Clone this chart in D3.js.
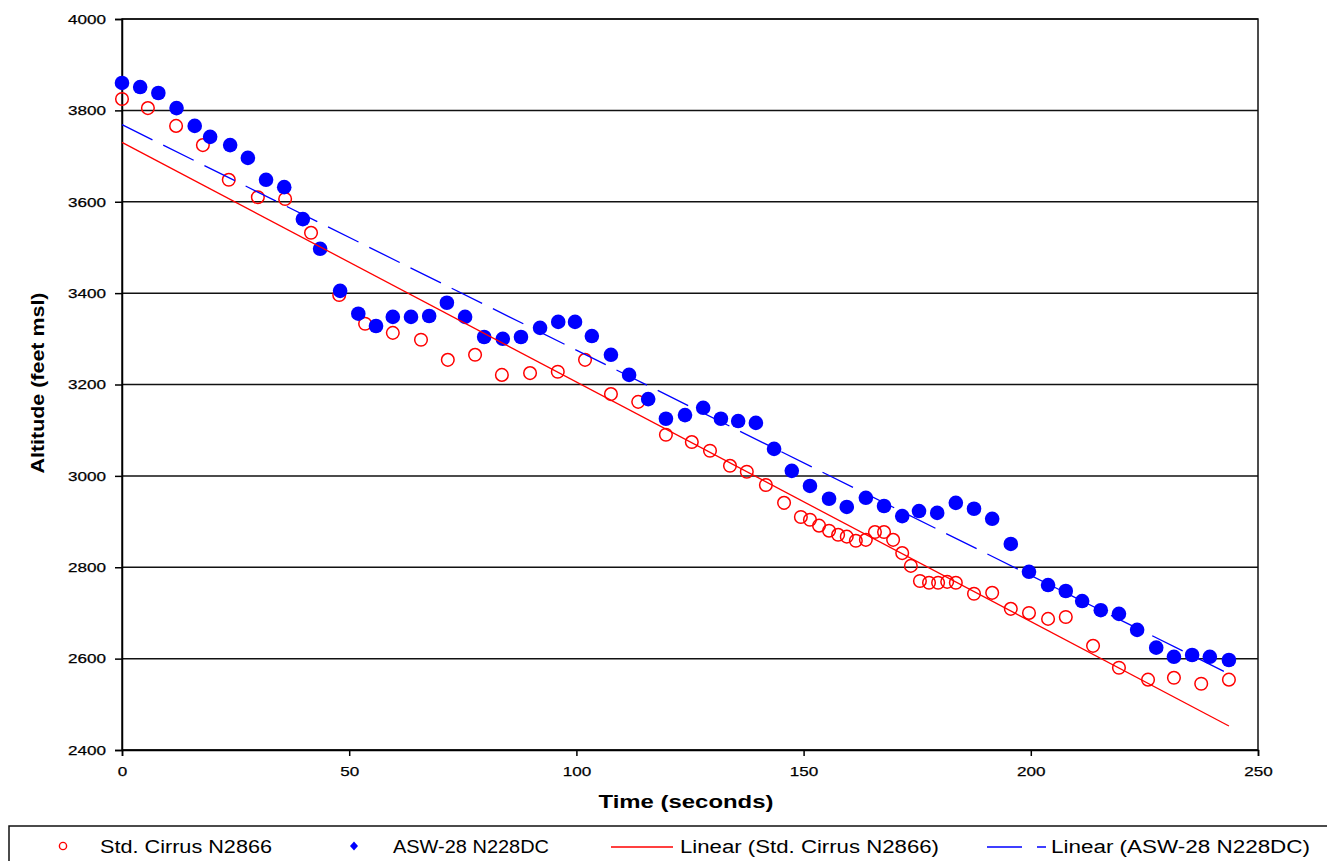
<!DOCTYPE html>
<html><head><meta charset="utf-8">
<script src="https://cdn.jsdelivr.net/npm/d3@7"></script>
<style>html,body{margin:0;padding:0;background:#fff;}svg{display:block;font-family:"Liberation Sans",Arial,sans-serif;}</style>
</head><body>
<script>
const stdTime = [0,5.7,11.9,17.8,23.5,29.9,35.9,41.6,47.8,53.5,59.6,65.8,71.7,77.7,83.6,89.8,95.9,101.9,107.6,113.6,119.7,125.4,129.4,133.8,137.5,141.7,145.7,149.4,151.4,153.4,155.6,157.6,159.5,161.5,163.7,165.7,167.7,169.7,171.7,173.6,175.6,177.6,179.6,181.6,183.5,187.5,191.5,195.6,199.6,203.8,207.7,213.7,219.4,225.8,231.5,237.5,243.6];
const stdAlt = [3825,3805,3766,3724,3648,3610,3606,3532,3396,3333,3313,3298,3254,3265,3221,3225,3228,3254,3179,3162,3090,3074,3055,3022,3009,2980,2941,2910,2904,2891,2880,2871,2867,2858,2860,2877,2877,2860,2831,2803,2770,2766,2766,2768,2766,2742,2744,2709,2700,2687,2691,2628,2580,2554,2558,2545,2554];
const aswTime = [0,4,8,12,16,19.4,23.8,27.7,31.7,35.7,39.8,43.6,48,52,55.9,59.6,63.6,67.6,71.5,75.5,79.7,83.8,87.8,92,96,99.7,103.4,107.6,111.6,115.8,119.7,123.9,127.9,131.8,135.6,139.5,143.5,147.4,151.4,155.6,159.5,163.7,167.7,171.7,175.4,179.4,183.5,187.5,191.5,195.6,199.6,203.8,207.7,211.3,215.4,219.4,223.4,227.6,231.5,235.5,239.4,243.6];
const aswAlt = [3860,3851,3838,3805,3766,3742,3724,3696,3648,3632,3562,3497,3405,3355,3328,3348,3348,3350,3379,3348,3304,3300,3304,3324,3337,3337,3306,3265,3221,3168,3125,3133,3149,3125,3120,3116,3059,3011,2978,2950,2932,2952,2934,2912,2923,2919,2941,2928,2906,2851,2790,2761,2748,2726,2706,2698,2663,2624,2604,2608,2604,2597];
const xTicks = [0,50,100,150,200,250];
const yTicks = [2400,2600,2800,3000,3200,3400,3600,3800,4000];
const seriesNames = ["Std. Cirrus N2866","ASW-28 N228DC","Linear (Std. Cirrus N2866)","Linear (ASW-28 N228DC)"];

const W=1327,H=861;
const svg=d3.select("body").append("svg").attr("width",W).attr("height",H);
const x=d3.scaleLinear().domain([0,250]).range([122,1258]);
const y=d3.scaleLinear().domain([2400,4000]).range([750,19]);

function fit(t,ys){
  const n=t.length,mx=d3.mean(t),my=d3.mean(ys);
  let sxy=0,sxx=0;
  for(let i=0;i<n;i++){sxy+=(t[i]-mx)*(ys[i]-my);sxx+=(t[i]-mx)**2;}
  const b=sxy/sxx,a=my-b*mx;
  return [[t[0],a+b*t[0]],[t[n-1],a+b*t[n-1]]];
}

// gridlines
svg.append("g").selectAll("line").data(yTicks).join("line")
  .attr("x1",x(0)).attr("x2",x(250)).attr("y1",d=>y(d)).attr("y2",d=>y(d))
  .attr("stroke","#111").attr("stroke-width",1.5);
// frame
svg.append("rect").attr("x",x(0)).attr("y",y(4000)).attr("width",x(250)-x(0)).attr("height",y(2400)-y(4000))
  .attr("fill","none").attr("stroke","#111").attr("stroke-width",1.5);

// axes
const yAxis=svg.append("g").attr("transform",`translate(${x(0)},0)`)
  .call(d3.axisLeft(y).tickValues(yTicks).tickSize(7).tickPadding(9).tickFormat(d3.format("d")));
const xAxis=svg.append("g").attr("transform",`translate(0,${y(2400)})`)
  .call(d3.axisBottom(x).tickValues(xTicks).tickSize(6).tickPadding(10).tickFormat(d3.format("d")));
[yAxis,xAxis].forEach(g=>{
  g.select(".domain").attr("stroke","#000").attr("stroke-width",1.5);
  g.selectAll(".tick line").attr("stroke","#000").attr("stroke-width",1.5);
  g.selectAll("text").attr("fill","#000").attr("font-family","'Liberation Sans',Arial,sans-serif")
   .attr("font-size",13.5).attr("font-weight","normal").attr("stroke","#000").attr("stroke-width",0.25);
});
yAxis.selectAll("text").attr("textLength",38).attr("lengthAdjust","spacingAndGlyphs");
xAxis.selectAll("text").each(function(d){
  const s=String(d); d3.select(this).attr("textLength",s.length*9.5).attr("lengthAdjust","spacingAndGlyphs");
});

// axis titles
svg.append("text").attr("x",686).attr("y",808).attr("text-anchor","middle")
  .attr("font-size",18).attr("font-weight","bold").attr("textLength",175).attr("lengthAdjust","spacingAndGlyphs")
  .text("Time (seconds)");
svg.append("text").attr("transform","translate(44,383) rotate(-90)").attr("text-anchor","middle")
  .attr("font-size",19).attr("font-weight","bold").attr("textLength",181).attr("lengthAdjust","spacingAndGlyphs")
  .text("Altitude (feet msl)");

// markers
const stdData=stdTime.map((t,i)=>[t,stdAlt[i]]);
const aswData=aswTime.map((t,i)=>[t,aswAlt[i]]);
svg.append("g").selectAll("circle").data(stdData).join("circle")
  .attr("cx",d=>x(d[0])).attr("cy",d=>y(d[1])).attr("r",6.3)
  .attr("fill","none").attr("stroke","#ff0000").attr("stroke-width",1.5);
svg.append("g").selectAll("circle").data(aswData).join("circle")
  .attr("cx",d=>x(d[0])).attr("cy",d=>y(d[1])).attr("r",7.3)
  .attr("fill","#0000ff");

// trend lines
const line=d3.line().x(d=>x(d[0])).y(d=>y(d[1]));
svg.append("path").datum(fit(stdTime,stdAlt)).attr("d",line)
  .attr("stroke","#ff0000").attr("stroke-width",1.3).attr("fill","none");
svg.append("path").datum(fit(aswTime,aswAlt)).attr("d",line)
  .attr("stroke","#0000ff").attr("stroke-width",1.3).attr("fill","none").attr("stroke-dasharray","34,12");

// legend
const lg=svg.append("g");
lg.append("rect").attr("x",9).attr("y",826).attr("width",1330).attr("height",50)
  .attr("fill","#fff").attr("stroke","#111").attr("stroke-width",1.5);
const ly=846;
lg.append("circle").attr("cx",63).attr("cy",ly).attr("r",3.6).attr("fill","none").attr("stroke","#ff0000").attr("stroke-width",1.4);
lg.append("path").attr("d",`M354,${ly-4.5}L358,${ly}L354,${ly+4.5}L350,${ly}Z`).attr("fill","#0000ff");
lg.append("line").attr("x1",611).attr("x2",673).attr("y1",ly+1).attr("y2",ly+1).attr("stroke","#ff0000").attr("stroke-width",1.5);
lg.append("line").attr("x1",987).attr("x2",1046).attr("y1",ly+1).attr("y2",ly+1).attr("stroke","#0000ff").attr("stroke-width",1.5).attr("stroke-dasharray","35,15,9,100");
const legendX=[100,393,680,1051], legendW=[172,156,259,259];
lg.selectAll("text.lt").data(seriesNames).join("text").attr("class","lt")
  .attr("x",(d,i)=>legendX[i]).attr("y",ly+7).attr("font-size",18)
  .attr("textLength",(d,i)=>legendW[i]).attr("lengthAdjust","spacingAndGlyphs")
  .text(d=>d);
</script>
</body></html>
